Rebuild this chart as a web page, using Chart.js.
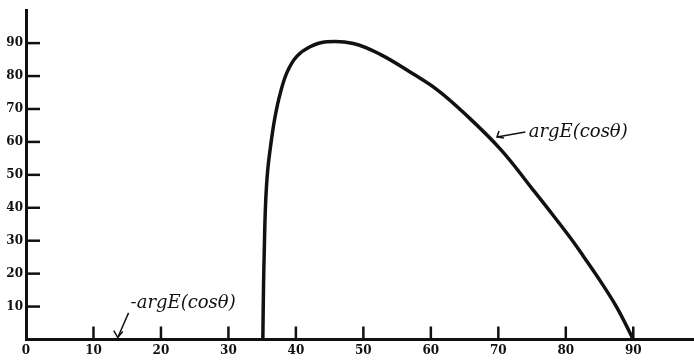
<!DOCTYPE html>
<html>
<head>
<meta charset="utf-8">
<script src="https://cdn.jsdelivr.net/npm/chart.js@4/dist/chart.umd.min.js"></script>
<style>
  html, body { margin: 0; padding: 0; background: #fff; }
  #wrap { width: 694px; height: 360px; position: relative; }
</style>
</head>
<body>
<div id="wrap"><canvas id="grafico"></canvas></div>
<script>
// valores (angulo em graus, arg E em graus)
const angulosBase = [0, 35.1];
const argEBase = [0, 0];

const angulos = [35.1, 35.2, 35.3, 35.5, 35.8, 36.3, 36.9, 37.7, 38.7, 40.1, 42.1, 44.6, 48.5, 52.5, 57.4, 60.9, 64.8, 70.4, 75.2, 78.2, 80.7, 82.6, 85.1, 87.6, 90];
const argE = [0, 15.9, 25.9, 40.9, 50.9, 59.5, 67.5, 74.9, 81.2, 85.9, 88.9, 90.4, 89.9, 86.6, 80.6, 75.9, 69.0, 57.6, 45.3, 37.5, 30.8, 25.3, 17.8, 9.6, 0];

const ticksX = [0, 10, 20, 30, 40, 50, 60, 70, 80, 90];
const ticksY = [10, 20, 30, 40, 50, 60, 70, 80, 90];

const fonteEixo = { family: "DejaVu Serif", size: 12, weight: "bold" };

function montarPontos(xs, ys) {
    let lista = [];
    for (let i = 0; i < xs.length; i++) {
        lista.push({ x: xs[i], y: ys[i] });
    }
    return lista;
}

// ticks voltados para dentro e anotacoes manuscritas
const marcasInternas = {
    id: "marcasInternas",
    afterDraw(chart) {
        const ctx = chart.ctx;
        const sx = chart.scales.x;
        const sy = chart.scales.y;
        ctx.save();
        ctx.strokeStyle = "#111";
        ctx.lineWidth = 2.5;
        ticksX.forEach((v) => {
            if (v == 0) return;
            const px = sx.getPixelForValue(v);
            ctx.beginPath();
            ctx.moveTo(px, sy.bottom);
            ctx.lineTo(px, sy.bottom - 13);
            ctx.stroke();
        });
        ticksY.forEach((v) => {
            const py = sy.getPixelForValue(v);
            ctx.beginPath();
            ctx.moveTo(sx.left, py);
            ctx.lineTo(sx.left + 14, py);
            ctx.stroke();
        });

        ctx.fillStyle = "#111";
        ctx.font = "italic 18px 'DejaVu Serif'";
        ctx.textBaseline = "middle";

        // anotacao da esquerda
        let ax = sx.getPixelForValue(15.5);
        let ay = sy.getPixelForValue(10.9);
        ctx.fillText("-argE(cosθ)", ax, ay);
        ctx.lineWidth = 1.5;
        let tx = sx.getPixelForValue(13.6);
        let ty = sy.getPixelForValue(0.6);
        ctx.beginPath();
        ctx.moveTo(sx.getPixelForValue(15.2), sy.getPixelForValue(8.1));
        ctx.lineTo(tx, ty);
        ctx.stroke();
        ctx.beginPath();
        ctx.moveTo(tx - 4, ty - 7);
        ctx.lineTo(tx, ty);
        ctx.lineTo(tx + 5, ty - 6);
        ctx.stroke();

        // anotacao da direita
        ax = sx.getPixelForValue(74.5);
        ay = sy.getPixelForValue(63);
        ctx.fillText("argE(cosθ)", ax, ay);
        tx = sx.getPixelForValue(69.8);
        ty = sy.getPixelForValue(61.5);
        ctx.beginPath();
        ctx.moveTo(sx.getPixelForValue(74), sy.getPixelForValue(63));
        ctx.lineTo(tx, ty);
        ctx.stroke();
        ctx.beginPath();
        ctx.moveTo(tx + 2, ty - 6);
        ctx.lineTo(tx, ty);
        ctx.lineTo(tx + 7, ty + 1);
        ctx.stroke();
        ctx.restore();
    }
};

const config = {
    type: "line",
    data: {
        datasets: [{
            data: montarPontos(angulosBase, argEBase),
            borderColor: "#111",
            borderWidth: 3,
            pointRadius: 0,
            fill: false,
            tension: 0
        }, {
            data: montarPontos(angulos, argE),
            borderColor: "#111",
            borderWidth: 3.5,
            pointRadius: 0,
            fill: false,
            tension: 0.4
        }]
    },
    options: {
        responsive: true,
        maintainAspectRatio: false,
        animation: false,
        layout: { padding: { top: 5, right: 0, left: 0, bottom: 0 } },
        plugins: { legend: { display: false }, tooltip: { enabled: false } },
        scales: {
            x: {
                type: "linear",
                min: 0,
                max: 99,
                afterFit: (scale) => { scale.height = 20.5; },
                grid: { display: true, drawOnChartArea: false, drawTicks: false },
                border: { display: true, color: "#111", width: 3 },
                ticks: {
                    stepSize: 10,
                    padding: 4,
                    color: "#111",
                    font: fonteEixo,
                    callback: (v) => (ticksX.includes(v) ? v : null)
                }
            },
            y: {
                min: 0,
                max: 100,
                afterFit: (scale) => { scale.width = 26; },
                grid: { display: true, drawOnChartArea: false, drawTicks: false },
                border: { display: true, color: "#111", width: 3 },
                ticks: {
                    stepSize: 10,
                    padding: 3,
                    color: "#111",
                    font: fonteEixo,
                    callback: (v) => (ticksY.includes(v) ? v : null)
                }
            }
        }
    },
    plugins: [marcasInternas]
};

let myChart = new Chart(document.getElementById("grafico"), config);
</script>
</body>
</html>
